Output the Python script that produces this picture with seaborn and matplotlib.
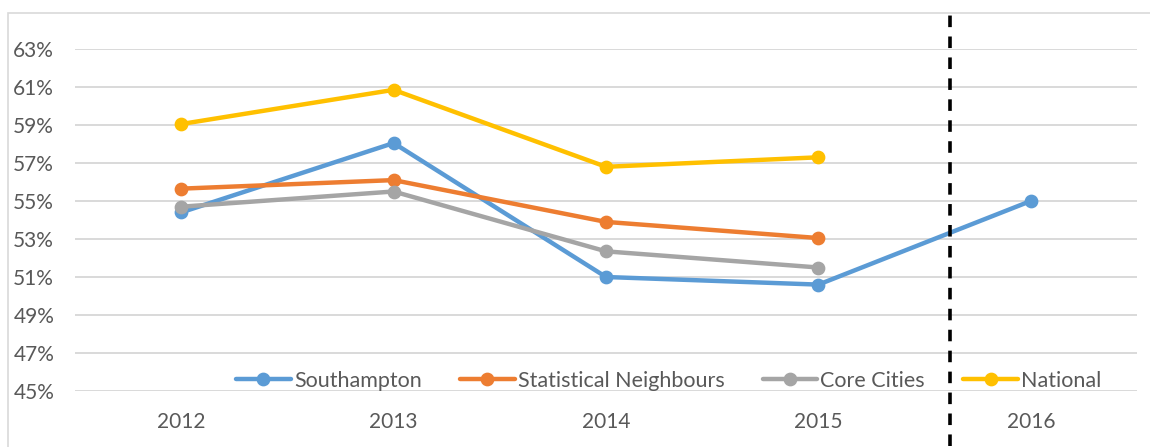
import matplotlib
matplotlib.use("Agg")
import matplotlib.pyplot as plt
from matplotlib.patches import Rectangle
import seaborn as sns
import pandas as pd
import numpy as np

years = ["2012", "2013", "2014", "2015", "2016"]
southampton = [54.4, 58.05, 51.0, 50.6, 55.0]
stat_neighbours = [55.65, 56.1, 53.9, 53.05, np.nan]
core_cities = [54.7, 55.5, 52.35, 51.5, np.nan]
national = [59.05, 60.85, 56.8, 57.3, np.nan]
series_names = ["Southampton", "Statistical Neighbours", "Core Cities", "National"]
colors = ["#5B9BD5", "#ED7D31", "#A5A5A5", "#FFC000"]
yticks = list(range(45, 64, 2))

rows = []
for name, vals in zip(series_names, [southampton, stat_neighbours, core_cities, national]):
    for y, v in zip(years, vals):
        rows.append({"Year": y, "Value": v, "Series": name})
df = pd.DataFrame(rows)

sns.set_theme(style="white")
plt.rcParams["font.family"] = ["Lato", "DejaVu Sans"]

fig = plt.figure(figsize=(11.5, 4.47), dpi=100)
ax = fig.add_axes([75/1150, 56/447, (1137-75)/1150, (391-49)/447])

sns.pointplot(data=df, x="Year", y="Value", hue="Series", order=years,
              hue_order=series_names, palette=colors, markers="o",
              linestyles="-", errorbar=None, linewidth=3.2, markersize=7.5,
              ax=ax, legend=True)

ax.set_xlim(-0.5, 4.5)
ax.set_ylim(45, 63)
ax.set_yticks(yticks)
ax.set_yticklabels([f"{t}%" for t in yticks])
ax.yaxis.grid(True, color="#D9D9D9", linewidth=1.4)
ax.set_axisbelow(True)
for s in ax.spines.values():
    s.set_visible(False)
ax.set_xlabel("")
ax.set_ylabel("")
ax.tick_params(axis="both", length=0, labelsize=15, colors="#595959")
ax.tick_params(axis="y", pad=15)
ax.tick_params(axis="x", pad=15)

# dashed separator
ax.axvline(3.62, ymin=-0.16, ymax=1.10, color="black", linestyle=(0, (3.2, 2.6)),
           linewidth=2.6, clip_on=False, zorder=5)

handles, labels = ax.get_legend_handles_labels()
leg = ax.legend(handles, labels, loc="center", bbox_to_anchor=(0.559, 0.03),
                ncol=4, frameon=False, fontsize=15.5, handlelength=2.55,
                handletextpad=0.14, columnspacing=1.77, borderpad=0)
for t in leg.get_texts():
    t.set_color("#595959")

# outer chart border
fig.patches.append(Rectangle((8/1150, -0.1), 1.2, (447-13)/447 + 0.1,
                             transform=fig.transFigure, fill=False,
                             edgecolor="#D9D9D9", linewidth=1.2))

fig.savefig("out.png", dpi=100)
